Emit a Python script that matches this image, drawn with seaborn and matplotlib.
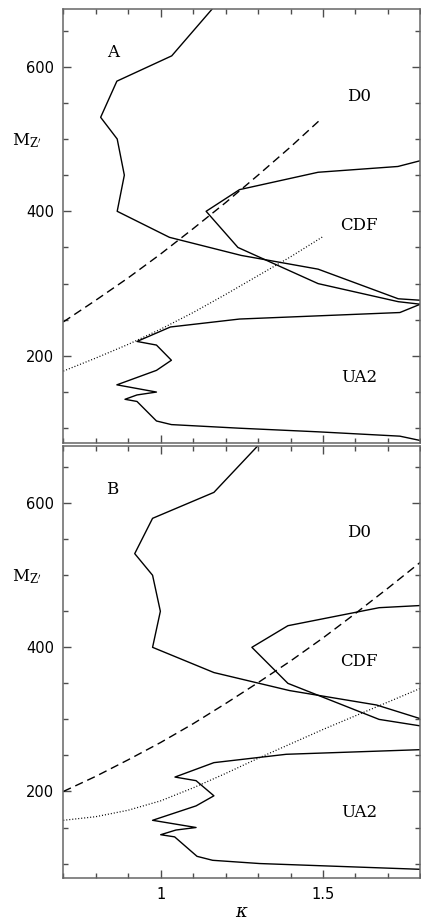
import numpy as np
import pandas as pd
import matplotlib
matplotlib.use("Agg")
import matplotlib.pyplot as plt
import seaborn as sns
from matplotlib.ticker import MultipleLocator, FixedLocator

# ==========================================
# DATA (kappa, M_Z')
# ==========================================

# panel A
a_main_k = [1.159, 1.034, 0.865, 0.815, 0.866, 0.888, 0.866, 1.027, 1.248, 1.485, 1.732, 1.80]
a_main_m = [680, 615, 580, 530, 500, 450, 400, 364, 339, 320, 279, 277]

a_tongue_k = [1.80, 1.731, 1.485, 1.243, 1.14, 1.238, 1.485, 1.732, 1.80]
a_tongue_m = [470, 462, 454, 430, 400, 350, 300, 275, 271.5]

a_ua2_k = [1.80, 1.737, 1.243, 1.03, 0.927, 0.987, 1.033, 0.987, 0.865, 0.987,
           0.927, 0.89, 0.927, 0.987, 1.033, 1.243, 1.485, 1.737, 1.80]
a_ua2_m = [271.5, 260, 251, 240, 220, 215, 194, 180, 160, 150,
           146, 140, 137, 110, 105, 100, 95, 89, 83]

a_dash_k = [0.70, 0.80, 0.90, 1.00, 1.10, 1.20, 1.30, 1.40, 1.49]
a_dash_m = [247, 277, 308, 341, 376, 412, 450, 489, 526]

a_dot_k = [0.70, 0.80, 0.90, 1.00, 1.10, 1.20, 1.30, 1.40, 1.50]
a_dot_m = [179, 197, 216, 237, 260, 285, 311, 337, 365]

# panel B
b_main_k = [1.30, 1.164, 0.975, 0.92, 0.975, 0.999, 0.975, 1.164, 1.397, 1.665, 1.80]
b_main_m = [680, 615, 579, 530, 500, 450, 400, 365, 340, 320, 301]

b_tongue_k = [1.80, 1.673, 1.392, 1.281, 1.392, 1.673, 1.80]
b_tongue_m = [458, 455, 430, 400, 350, 300, 291]

b_ua2_k = [1.80, 1.387, 1.164, 1.044, 1.109, 1.164, 1.109, 0.975, 1.109,
           1.047, 1.0, 1.043, 1.112, 1.16, 1.305, 1.80]
b_ua2_m = [258, 251.6, 240, 220, 215, 194, 180, 160, 150,
           146.5, 140, 137, 110, 104.5, 100, 92]

b_dash_k = [0.70, 0.80, 0.90, 1.00, 1.10, 1.20, 1.30, 1.40, 1.50, 1.60, 1.70, 1.80]
b_dash_m = [200, 221, 244, 268, 294, 322, 351, 381, 413, 447, 482, 518]

b_dot_k = [0.70, 0.80, 0.90, 1.00, 1.10, 1.20, 1.30, 1.40, 1.50, 1.60, 1.70, 1.80]
b_dot_m = [160, 165, 174, 187, 205, 225, 246, 266, 286, 305, 324, 343]

labels_a = [("A", 0.852, 619), ("D0", 1.612, 559), ("CDF", 1.612, 381), ("UA2", 1.612, 170)]
labels_b = [("B", 0.852, 619), ("D0", 1.612, 559), ("CDF", 1.612, 380), ("UA2", 1.612, 171)]

# ==========================================
# STYLE
# ==========================================

sns.set_theme(style="ticks")
plt.rcParams["font.family"] = ["DejaVu Sans"]
plt.rcParams["mathtext.fontset"] = "dejavuserif"
plt.rcParams["text.color"] = "black"

fig = plt.figure(figsize=(4.21, 9.23), dpi=100)
ax_a = fig.add_axes([0.1504, 0.5204, 0.848, 0.4700])
ax_b = fig.add_axes([0.1504, 0.0488, 0.848, 0.4685])


def draw(ax, k, m, ls, lw=1.0):
    d = pd.DataFrame({"kappa": k, "M": m})
    sns.lineplot(data=d, x="kappa", y="M", sort=False, estimator=None,
                 color="black", lw=lw, linestyle=ls, ax=ax)


panels = [
    (ax_a, [(a_main_k, a_main_m), (a_tongue_k, a_tongue_m), (a_ua2_k, a_ua2_m)],
     (a_dash_k, a_dash_m), (a_dot_k, a_dot_m), labels_a),
    (ax_b, [(b_main_k, b_main_m), (b_tongue_k, b_tongue_m), (b_ua2_k, b_ua2_m)],
     (b_dash_k, b_dash_m), (b_dot_k, b_dot_m), labels_b),
]

for ax, solids, dash, dot, labs in panels:
    for k, m in solids:
        draw(ax, k, m, "-", 1.0)
    draw(ax, dash[0], dash[1], (0, (6, 3.5)), 1.0)
    draw(ax, dot[0], dot[1], (0, (0.8, 1.6)), 0.9)

    ax.set_xlim(0.7, 1.8)
    ax.set_ylim(80, 680)
    ax.xaxis.set_major_locator(FixedLocator([1.0, 1.5]))
    ax.xaxis.set_minor_locator(MultipleLocator(0.1))
    ax.yaxis.set_major_locator(FixedLocator([200, 400, 600]))
    ax.yaxis.set_minor_locator(MultipleLocator(50))
    ax.tick_params(which="both", direction="in", top=True, right=True,
                   color="0.3", width=1.0, labelcolor="black")
    ax.tick_params(which="major", length=5.5, labelsize=10.5, pad=6.5)
    ax.tick_params(which="minor", length=3.5)
    for s in ax.spines.values():
        s.set_color("0.4")
        s.set_linewidth(1.1)
    ax.set_ylabel("")
    ax.set_xlabel("")
    ax.text(-0.145, 0.685, r"M$_{\mathrm{Z'}}$", transform=ax.transAxes,
            family="DejaVu Serif", fontsize=12, color="black",
            ha="left", va="baseline")
    for t, x, y in labs:
        ax.text(x, y, t, family="DejaVu Serif", fontsize=12, color="black",
                ha="center", va="center")

ax_a.tick_params(labelbottom=False)
ax_b.set_xticklabels(["1", "1.5"])
ax_b.set_xlabel(r"$\kappa$", fontsize=13, labelpad=1, color="black")

fig.savefig("out.png", dpi=100)
